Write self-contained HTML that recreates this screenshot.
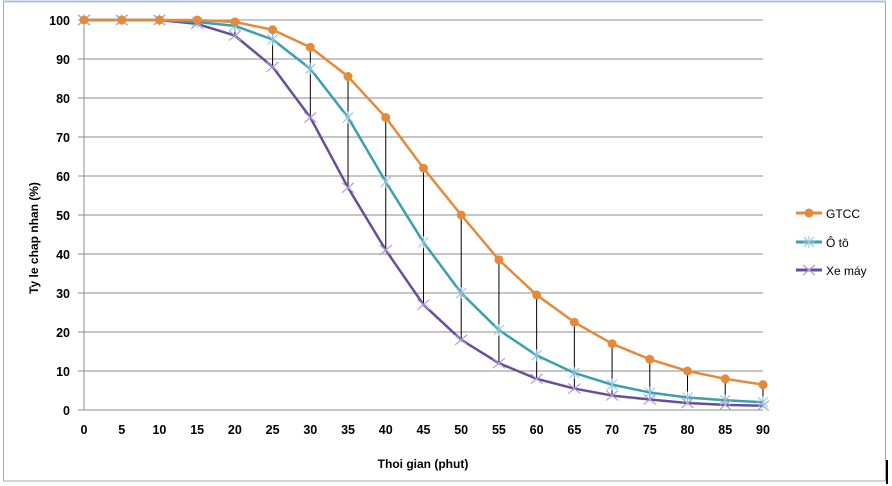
<!DOCTYPE html>
<html><head><meta charset="utf-8"><style>
html,body{margin:0;padding:0;background:#fff;width:892px;height:486px;overflow:hidden}
svg{display:block;font-family:"Liberation Sans",sans-serif}
</style></head><body>
<svg id="s" width="892" height="486" xmlns="http://www.w3.org/2000/svg">
<rect x="3.5" y="2" width="882" height="479" fill="#fff" stroke="#a8a8a8" stroke-width="1"/>
<line x1="3" y1="1.5" x2="886" y2="1.5" stroke="#a9c3df" stroke-width="2"/>
<rect x="886" y="460" width="2" height="24" fill="#000"/>
<g id="g"></g>
<text x="15" y="215" font-size="12" font-weight="bold" fill="#000" text-anchor="middle" transform="rotate(-90 38 215)" dx="0">Ty le chap nhan (%)</text>
<text x="423" y="468" font-size="12" font-weight="bold" fill="#000" text-anchor="middle">Thoi gian (phut)</text>
<g font-size="12" fill="#000">
<line x1="796" y1="213" x2="822" y2="213" stroke="#e58a3c" stroke-width="3"/><circle cx="809" cy="213" r="4.5" fill="#e58a3c"/>
<text x="826" y="218">GTCC</text>
<line x1="796" y1="242" x2="822" y2="242" stroke="#3a9fb0" stroke-width="3"/>
<path d="M804 237l10 10M814 237l-10 10M809 236v12M803 242h12" stroke="#8fc4e0" stroke-width="1"/>
<text x="826" y="247">Ô tô</text>
<line x1="796" y1="270" x2="822" y2="270" stroke="#6b4c9a" stroke-width="3"/>
<path d="M803 265l12 10M815 265l-12 10" stroke="#a8a0d8" stroke-width="1.2"/>
<text x="826" y="275">Xe máy</text>
</g>
</svg>
<script>
var g=document.getElementById('g'),h='';
function X(v){return 84+v*7.544}function Y(p){return 410-p*3.9}
for(var p=0;p<=100;p+=10){var y=Y(p);h+='<line x1="78" y1="'+y+'" x2="'+X(90)+'" y2="'+y+'" stroke="#8c8c8c" stroke-width="1"/>';
h+='<text x="70" y="'+(y+5)+'" font-size="12.5" font-weight="bold" text-anchor="end" font-family="Liberation Sans Narrow,Liberation Sans,sans-serif">'+p+'</text>';}
h+='<line x1="84" y1="20" x2="84" y2="410" stroke="#8c8c8c"/>';
for(var v=0;v<=90;v+=5){h+='<text x="'+X(v)+'" y="434" font-size="12.5" font-weight="bold" text-anchor="middle" font-family="Liberation Sans Narrow,Liberation Sans,sans-serif">'+v+'</text>';}
var A=[100,100,100,100,99.5,97.5,93,85.5,75,62,50,38.5,29.5,22.5,17,13,10,8,6.5];
var B=[100,100,100,99.5,98.5,95,87.5,75,58.5,43,30,20.5,14,9.5,6.5,4.5,3.2,2.5,2];
var C=[100,100,100,99,96,88,75,57,41,27,18,12,8,5.5,3.7,2.7,1.8,1.3,1.1];
for(var i=4;i<19;i++){h+='<line x1="'+X(i*5)+'" y1="'+Y(A[i])+'" x2="'+X(i*5)+'" y2="'+Y(C[i])+'" stroke="#000" stroke-width="1"/>';}
function pl(d,c){var s='';for(var i=0;i<19;i++)s+=X(i*5)+','+Y(d[i])+' ';return '<polyline points="'+s+'" fill="none" stroke="'+c+'" stroke-width="2.5" stroke-linejoin="round"/>';}
h+=pl(C,'#6b4c9a')+pl(B,'#3a9fb0')+pl(A,'#e58a3c');
for(var i=0;i<19;i++){var x=X(i*5),y=Y(C[i]);h+='<path d="M'+(x-6)+' '+(y-5)+'l12 10M'+(x+6)+' '+(y-5)+'l-12 10" stroke="#a8a0d8" stroke-width="1.2"/>';
y=Y(B[i]);h+='<path d="M'+(x-5)+' '+(y-5)+'l10 10M'+(x+5)+' '+(y-5)+'l-10 10M'+x+' '+(y-6)+'v12" stroke="#8fc4e0" stroke-width="1"/>';
h+='<circle cx="'+x+'" cy="'+Y(A[i])+'" r="4.5" fill="#e58a3c"/>';}
g.innerHTML=h;
</script>
</body></html>
